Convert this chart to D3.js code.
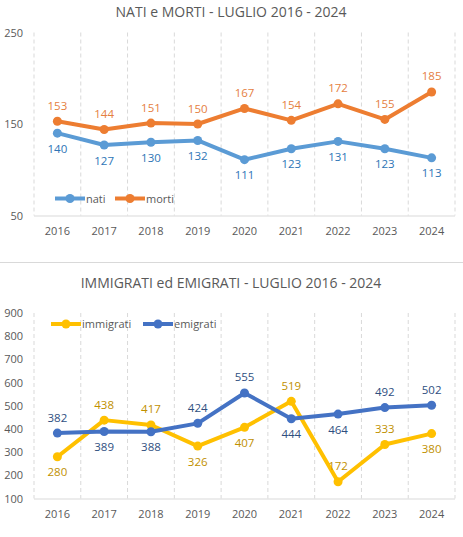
<!DOCTYPE html>
<html><head><meta charset="utf-8">
<script src="https://cdn.jsdelivr.net/npm/d3@7"></script>
<style>
body{margin:0;background:#fff;}
svg{display:block;font-family:"Open Sans",sans-serif;}
</style></head>
<body><svg id="c" width="463" height="537"></svg>
<script>
const years = ["2016","2017","2018","2019","2020","2021","2022","2023","2024"];
const nati = [140,127,130,132,111,123,131,123,113];
const morti = [153,144,151,150,167,154,172,155,185];
const immigrati = [280,438,417,326,407,519,172,333,380];
const emigrati = [382,389,388,424,555,444,464,492,502];
const ticks1 = [50,150,250];
const ticks2 = [100,200,300,400,500,600,700,800,900];
// label placement: 1 above, -1 below
const natiPos = [-1,-1,-1,-1,-1,-1,-1,-1,-1];
const mortiPos = [1,1,1,1,1,1,1,1,1];
const immPos = [-1,1,1,-1,-1,1,1,1,-1];
const emiPos = [1,-1,-1,1,1,-1,-1,1,1];

const svg = d3.select("#c");
const x = d3.scaleBand().domain(years).range([34,455]).padding(0);
const cx = d => x(d) + x.bandwidth()/2;

function chart(opts){
  const g = svg.append("g");
  const y = d3.scaleLinear().domain(opts.domain).range(opts.range);
  g.append("text").attr("x",231).attr("y",opts.titleY).attr("text-anchor","middle")
    .attr("font-size",14).attr("fill","#595959").text(opts.title);
  const bounds = years.map(d=>x(d)).concat([x(years[years.length-1])+x.bandwidth()]);
  g.selectAll("line.v").data(bounds).enter().append("line")
    .attr("x1",d=>d).attr("x2",d=>d).attr("y1",opts.range[1]).attr("y2",opts.range[0])
    .attr("stroke","#d9d9d9").attr("stroke-dasharray","4,3").attr("stroke-width",1);
  g.append("line").attr("x1",34).attr("x2",455).attr("y1",opts.range[0]+0.5).attr("y2",opts.range[0]+0.5)
    .attr("stroke","#d9d9d9").attr("stroke-width",1);
  g.selectAll("text.yt").data(opts.ticks).enter().append("text")
    .attr("x",23).attr("y",d=>y(d)+4).attr("text-anchor","end")
    .attr("font-size",11).attr("fill","#595959").text(d=>d);
  g.selectAll("text.xt").data(years).enter().append("text")
    .attr("x",d=>cx(d)).attr("y",opts.range[0]+19).attr("text-anchor","middle")
    .attr("font-size",11).attr("fill","#595959").text(d=>d);
  const line = d3.line().x((d,i)=>cx(years[i])).y(d=>y(d));
  opts.series.forEach(s=>{
    g.append("path").datum(s.values).attr("d",line).attr("fill","none")
      .attr("stroke",s.color).attr("stroke-width",4).attr("stroke-linejoin","round");
    g.selectAll(null).data(s.values).enter().append("circle")
      .attr("cx",(d,i)=>cx(years[i])).attr("cy",d=>y(d)).attr("r",4.5).attr("fill",s.color);
    g.selectAll(null).data(s.values).enter().append("text")
      .attr("x",(d,i)=>cx(years[i])).attr("y",(d,i)=>y(d) - s.pos[i]*15.5 + 4)
      .attr("text-anchor","middle").attr("font-size",11.5).attr("fill",s.labelColor).text(d=>d);
    g.append("line").attr("x1",s.lx).attr("x2",s.lx+30).attr("y1",opts.legendY).attr("y2",opts.legendY)
      .attr("stroke",s.color).attr("stroke-width",4);
    g.append("circle").attr("cx",s.lx+15).attr("cy",opts.legendY).attr("r",4.5).attr("fill",s.color);
    g.append("text").attr("x",s.lx+31).attr("y",opts.legendY+4).attr("font-size",11)
      .attr("fill","#595959").text(s.name);
  });
}

chart({title:"NATI e MORTI - LUGLIO 2016 - 2024", titleY:17, domain:[50,250], range:[215.5,32.5],
  ticks:ticks1, legendY:198.5,
  series:[
    {name:"nati", values:nati, pos:natiPos, color:"#5B9BD5", labelColor:"#2E75B6", lx:55},
    {name:"morti", values:morti, pos:mortiPos, color:"#ED7D31", labelColor:"#E5803F", lx:115}
  ]});

svg.append("line").attr("x1",0).attr("x2",463).attr("y1",262.5).attr("y2",262.5)
  .attr("stroke","#d9d9d9").attr("stroke-width",1);

chart({title:"IMMIGRATI ed EMIGRATI - LUGLIO 2016 - 2024", titleY:288, domain:[100,900], range:[498.5,313],
  ticks:ticks2, legendY:324,
  series:[
    {name:"immigrati", values:immigrati, pos:immPos, color:"#FFC000", labelColor:"#BF9000", lx:51},
    {name:"emigrati", values:emigrati, pos:emiPos, color:"#4472C4", labelColor:"#2F4F7F", lx:143}
  ]});
</script></body></html>
